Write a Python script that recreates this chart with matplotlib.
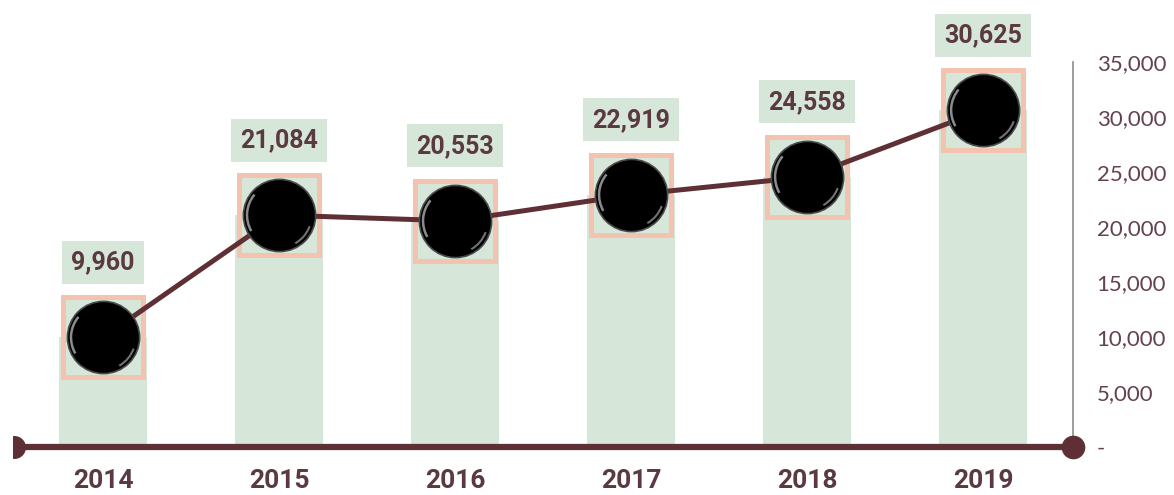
import numpy as np
import matplotlib
matplotlib.use("Agg")
from matplotlib import pyplot as plt
from matplotlib.patches import Arc
from matplotlib.transforms import Affine2D, ScaledTranslation

years = ["2014", "2015", "2016", "2017", "2018", "2019"]
values = [9960, 21084, 20553, 22919, 24558, 30625]
y_ticks = [0, 5000, 10000, 15000, 20000, 25000, 30000, 35000]

MAROON = "#5e3035"
TEXT = "#5a3a40"
GREEN = "#d6e6d8"
PINK = "#f3c3b0"
BOLD = dict(family=["Roboto", "DejaVu Sans"], fontweight="bold", color=TEXT)

W, H = 1174, 495
fig = plt.figure(figsize=(W / 100, H / 100), dpi=100)
fig.patch.set_facecolor("white")

# axes placed so that 0 sits on the baseline and 35,000 near the top
ax = fig.add_axes([13 / W, (H - 469) / H, (1073 - 13) / W, (469 - 62) / H])
ax.set_facecolor("none")
x = np.arange(len(years))
ax.set_xlim(-0.511, 5.511)
ax.set_ylim(-2000, 35000)


def anchored(xd, yd):
    # point-based transform anchored on a data point
    return Affine2D().scale(fig.dpi / 72) + ScaledTranslation(xd, yd, ax.transData)


ax.bar(x, values, width=0.5, color=GREEN, zorder=1)

# square frame behind each point, then the line, then the black balls
ax.plot(x, values, ls="none", marker="s", ms=57.5, mfc=GREEN, mec=PINK, mew=3.6, zorder=2)
ax.plot(x, values, color=MAROON, lw=3.6, zorder=3, solid_capstyle="round")
ax.plot(x, values, ls="none", marker="o", ms=52, mfc="black", mec="#4a4a4a", mew=1.2, zorder=4)

# soft sheen on the rim of each ball (sizes in points)
for xi, yi in zip(x, values):
    tr = anchored(xi, yi)
    ax.add_patch(Arc((0, 0), 46, 46, theta1=140, theta2=210, color="white",
                     lw=1.8, alpha=0.55, transform=tr, zorder=5, clip_on=False))
    ax.add_patch(Arc((0, 0), 47, 47, theta1=-60, theta2=-20, color="white",
                     lw=1.5, alpha=0.45, transform=tr, zorder=5, clip_on=False))

# value labels in green boxes
for xi, v in zip(x, values):
    ax.annotate("{:,}".format(v), (xi, v), xytext=(0, 54), textcoords="offset points",
                ha="center", va="center", fontsize=18, zorder=6, annotation_clip=False,
                bbox=dict(boxstyle="square,pad=0.38", fc=GREEN, ec="none"), **BOLD)

# year labels under the baseline
for xi, yr in zip(x, years):
    ax.annotate(yr, (xi, 0), xytext=(0, -24.5), textcoords="offset points",
                ha="center", va="center", fontsize=19, annotation_clip=False, **BOLD)

# baseline with round end caps
ax.plot([-0.6, 5.511], [0, 0], color=MAROON, lw=4.5, zorder=8, clip_on=True)
ax.plot([-0.503], [0], marker="o", ms=15.5, color=MAROON, zorder=8, clip_on=True)
ax.plot([5.511], [0], marker="o", ms=16, color=MAROON, zorder=8, clip_on=False)
ax.plot([5.511, 5.511], [0, 35000], color="#8c8c8c", lw=1.2, zorder=0, clip_on=False)

for s in ax.spines.values():
    s.set_visible(False)

ax.set_xticks([])
ax.yaxis.tick_right()
ax.set_yticks(y_ticks)
ax.set_yticklabels(["-" if t == 0 else "{:,}".format(t) for t in y_ticks],
                   fontsize=16, family=["Lato", "DejaVu Sans"], color="#63434b")
ax.tick_params(axis="y", length=0, pad=17)

fig.savefig("out.png", dpi=100)
